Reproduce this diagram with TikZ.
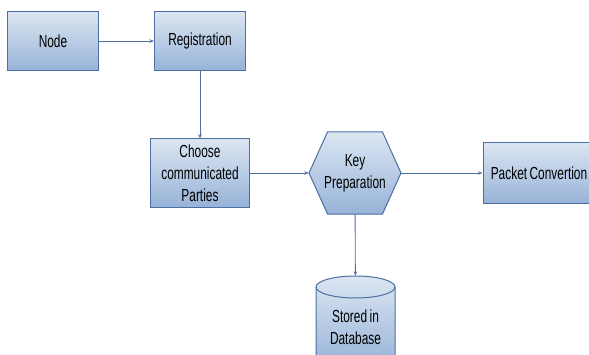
\documentclass[tikz,border=0pt]{standalone}
\usepackage{fontspec}
\setmainfont{Liberation Sans}[FakeStretch=0.68, WordSpace=0.75]
\usetikzlibrary{arrows.meta}

\definecolor{boxline}{HTML}{4A6FA0}
\definecolor{boxtop}{HTML}{DCE6F2}
\definecolor{boxbot}{HTML}{97B3D8}
\definecolor{arrline}{HTML}{4F6F9E}

\begin{document}
\begin{tikzpicture}[x=1pt,y=1pt,
    shadedbox/.style={draw=boxline, line width=1pt, top color=boxtop, bottom color=boxbot},
    stepbox/.style={shadedbox, minimum width=91pt, minimum height=59pt, inner sep=0pt,
        font=\fontsize{17.5}{22}\selectfont, align=center},
    plaintext/.style={inner sep=0pt, font=\fontsize{17.5}{22}\selectfont, align=center},
    flow/.style={draw=arrline, line width=0.9pt, -{Stealth[length=4.5pt,width=3.5pt]}}]

    \useasboundingbox (0,0) rectangle (589,354);

    % boxes
    \node[stepbox] (node) at (53,313) {Node};
    \node[stepbox] (reg) at (200,313) {Registration};
    \node[stepbox, minimum width=99pt, minimum height=68pt] (choose) at (200,181)
        {Choose\\communicated\\Parties};
    \node[stepbox, minimum width=112pt, minimum height=60pt] (packet) at (539,181)
        {Packet Convertion};

    % hexagon
    \coordinate (keyc) at (355,181);
    \draw[shadedbox] ([shift={(-46,0)}]keyc) -- ([shift={(-27.5,41)}]keyc)
        -- ([shift={(27.5,41)}]keyc) -- ([shift={(46,0)}]keyc)
        -- ([shift={(27.5,-41)}]keyc) -- ([shift={(-27.5,-41)}]keyc) -- cycle;
    \node[plaintext, minimum width=92pt, minimum height=82pt] (key) at (keyc)
        {Key\\Preparation};

    % database
    \coordinate (dbc) at (355.5,27);
    \draw[shadedbox] ([shift={(-39.5,40)}]dbc) -- ([shift={(-39.5,-40)}]dbc)
        -- ([shift={(39.5,-40)}]dbc) -- ([shift={(39.5,40)}]dbc)
        arc[start angle=0, end angle=180, x radius=39.5, y radius=11] -- cycle;
    \draw[draw=boxline, line width=1pt] ([shift={(-39.5,40)}]dbc)
        arc[start angle=180, end angle=360, x radius=39.5, y radius=11];
    \node[plaintext, minimum width=79pt, minimum height=102pt] (db) at (dbc)
        {Stored in\\Database};

    % connectors
    \draw[flow] (node) -- (reg);
    \draw[flow] (reg) -- (choose);
    \draw[flow] (choose) -- (key);
    \draw[flow] (key) -- (packet);
    \draw[flow] (key) -- (db);

\end{tikzpicture}
\end{document}
